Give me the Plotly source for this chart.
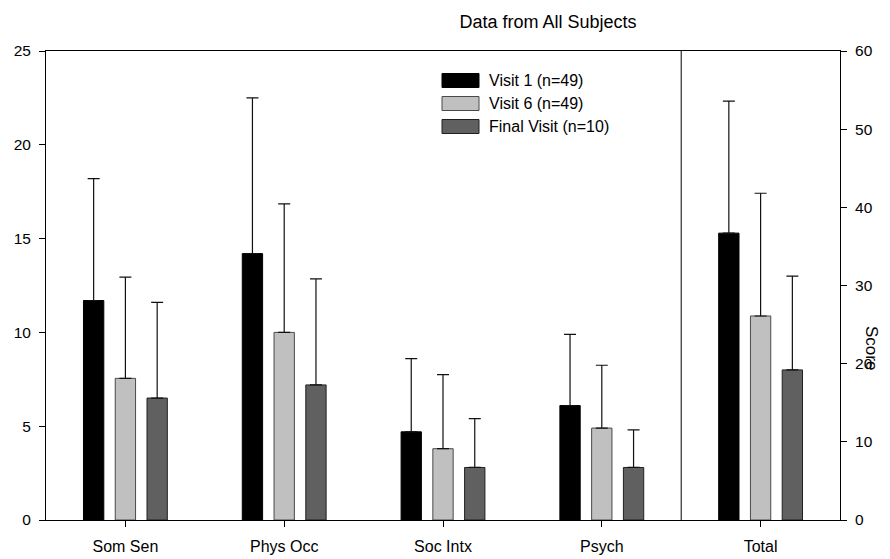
import plotly.graph_objects as go

# ---- data ----
categories = ["Som Sen", "Phys Occ", "Soc Intx", "Psych", "Total"]
series_names = ["Visit 1 (n=49)", "Visit 6 (n=49)", "Final Visit (n=10)"]

visit1_mean = [11.7, 14.2, 4.7, 6.1, 36.7]
visit1_upper = [18.2, 22.5, 8.6, 9.9, 53.6]
visit6_mean = [7.55, 10.0, 3.8, 4.9, 26.1]
visit6_upper = [12.95, 16.85, 7.75, 8.25, 41.8]
final_mean = [6.5, 7.2, 2.8, 2.8, 19.2]
final_upper = [11.6, 12.85, 5.4, 4.8, 31.2]

left_ticks = [0, 5, 10, 15, 20, 25]
right_ticks = [0, 10, 20, 30, 40, 50, 60]

# ---- styles ----
fills = ["#000000", "#c0c0c0", "#606060"]
outlines = ["#000000", "#4a4a4a", "#202020"]
centers = [-0.2, 0.0, 0.2]
bar_w = 0.128
FONT = "Liberation Sans, Arial, sans-serif"

means = [visit1_mean, visit6_mean, final_mean]
uppers = [visit1_upper, visit6_upper, final_upper]

fig = go.Figure()
for i in range(3):
    m = means[i]
    u = uppers[i]
    err = [uu - mm for uu, mm in zip(u, m)]
    for sub, yax in ((slice(0, 4), "y"), (slice(4, 5), "y2")):
        fig.add_trace(go.Bar(
            x=categories[sub], y=m[sub], yaxis=yax,
            name=series_names[i], showlegend=False,
            width=bar_w, offset=centers[i] - bar_w / 2,
            marker=dict(color=fills[i], line=dict(color=outlines[i], width=1)),
            error_y=dict(type="data", symmetric=False, array=err[sub],
                         arrayminus=[0] * len(err[sub]),
                         color="#111111", thickness=1.2, width=6),
        ))

# plot area in pixels
W, H = 890, 559
L, R, T, B = 46, 50, 51, 39
pw, ph = W - L - R, H - T - B

def px2paper(x, y):
    return (x - L) / pw, (H - B - y) / ph

shapes = []
annotations = []
# divider between subscales and Total
shapes.append(dict(type="line", xref="x", yref="paper", x0=3.5, x1=3.5, y0=0, y1=1,
                   line=dict(color="black", width=1)))
# custom legend
for i, nm in enumerate(series_names):
    cy = 80.5 + 23 * i
    x0, y0 = px2paper(442, cy - 7)
    x1, y1 = px2paper(479, cy + 7)
    shapes.append(dict(type="rect", xref="paper", yref="paper", x0=x0, x1=x1, y0=y1, y1=y0,
                       fillcolor=fills[i], line=dict(color=outlines[i], width=1)))
    tx, ty = px2paper(487, cy)
    annotations.append(dict(xref="paper", yref="paper", x=tx, y=ty, text=nm,
                            showarrow=False, xanchor="left", yanchor="middle",
                            font=dict(family=FONT, size=16, color="black")))
# right axis title, rotated to read top to bottom
sx, sy = px2paper(872, 348)
annotations.append(dict(xref="paper", yref="paper", x=sx, y=sy, text="Score", textangle=90,
                        showarrow=False, xanchor="center", yanchor="middle",
                        font=dict(family=FONT, size=17, color="black")))

fig.update_layout(
    width=W, height=H,
    margin=dict(l=L, r=R, t=T, b=B, pad=0, autoexpand=False),
    paper_bgcolor="white", plot_bgcolor="white",
    barmode="overlay",
    showlegend=False,
    title=dict(text="Data from All Subjects", xref="paper", x=(548 - L) / pw,
               xanchor="center", y=1 - 22 / H, yanchor="middle",
               font=dict(family=FONT, size=18, color="black")),
    font=dict(family=FONT, size=16, color="black"),
    xaxis=dict(type="category", categoryorder="array", categoryarray=categories,
               range=[-0.5, 4.5], showline=True, mirror=True, linecolor="black", linewidth=1,
               ticks="outside", ticklen=6, tickcolor="black", tickwidth=1,
               showgrid=False, zeroline=False, ticklabelstandoff=6, automargin=False,
               tickfont=dict(family=FONT, size=16, color="black")),
    yaxis=dict(range=[0, 25], tickvals=left_ticks, showline=True, linecolor="black",
               linewidth=1, ticks="outside", ticklen=6, tickcolor="black",
               showgrid=False, zeroline=False, ticklabelstandoff=5, automargin=False,
               tickfont=dict(family=FONT, size=15.5, color="black")),
    yaxis2=dict(range=[0, 60], tickvals=right_ticks, overlaying="y", side="right",
                showline=True, linecolor="black", linewidth=1, ticks="outside", ticklen=6,
                tickcolor="black", showgrid=False, zeroline=False, ticklabelstandoff=5,
                automargin=False,
                tickfont=dict(family=FONT, size=15.5, color="black")),
    shapes=shapes,
    annotations=annotations,
)

fig.write_html("out.html")
